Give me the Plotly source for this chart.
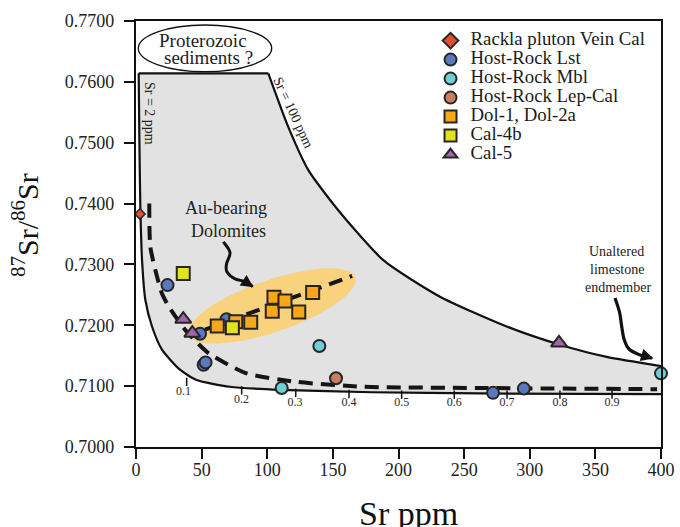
import numpy as np
import plotly.graph_objects as go

FONT = "Liberation Serif"

# ---------------- data ----------------
rackla_x = [3.0]
rackla_y = [0.7383]

lst_x = [24.0, 48.8, 51.5, 53.0, 69.0, 272.0, 295.5]
lst_y = [0.7266, 0.7186, 0.7135, 0.7139, 0.7210, 0.7089, 0.7096]

mbl_x = [111.0, 139.7, 400.0]
mbl_y = [0.7097, 0.7166, 0.7121]

lep_x = [152.4]
lep_y = [0.7113]

dol_x = [61.9, 76.0, 87.4, 105.1, 103.8, 113.5, 124.0, 134.6]
dol_y = [0.7199, 0.7206, 0.7205, 0.7246, 0.7223, 0.7240, 0.7222, 0.7254]

cal4b_x = [36.0, 73.4]
cal4b_y = [0.7285, 0.7196]

cal5_x = [36.0, 42.9, 322.3]
cal5_y = [0.7210, 0.7187, 0.7171]

# envelope curves (Sr = 2 ppm lower/left, Sr = 100 ppm upper/right)
lower_x = [2.06, 2.6, 3.3, 4.6, 7.1, 12.2, 19.8, 33.5, 46.2, 71.6, 109.7, 180.0, 262.0, 400.0]
lower_y = [0.7614, 0.7500, 0.7395, 0.7307, 0.7242, 0.7198, 0.7160, 0.7127, 0.7110, 0.7099, 0.7094, 0.7090, 0.7088, 0.7087]
upper_x = [100.8, 116.0, 131.3, 154.1, 188.4, 231.6, 282.4, 323.0, 358.6, 400.0]
upper_y = [0.7614, 0.7526, 0.7455, 0.7389, 0.7307, 0.7247, 0.7198, 0.7168, 0.7148, 0.7133]
top_x = [2.06, 100.8]
top_y = [0.7614, 0.7614]
fill_pad_x = 440.0   # fill polygon continues past the right axis (clipped there)

# mixing curve (dashed)
mix_x = [10.1, 10.9, 16.0, 19.6, 24.9, 37.6, 55.4, 84.3, 122.4, 173.2, 260.0, 397.0]
mix_y = [0.7400, 0.7329, 0.7280, 0.7253, 0.7231, 0.7192, 0.7154, 0.7121, 0.7107, 0.7099, 0.7097, 0.7095]

# dolomite trend (dashed)
doltrend_x = [52.6, 164.6]
doltrend_y = [0.7193, 0.7281]

# mixing fraction ticks and labels
frac_labels = ["0.1", "0.2", "0.3", "0.4", "0.5", "0.6", "0.7", "0.8", "0.9"]
frac_tick_x = [38.6, 80.5, 121.7, 162.3, 202.4, 242.5, 282.7, 323.0, 362.7]
frac_tick_y = [0.7107, 0.7093, 0.7089, 0.7087, 0.7086, 0.7086, 0.7086, 0.7086, 0.7086]
frac_lab_x = [36.2, 80.4, 121.1, 162.3, 202.4, 242.5, 282.7, 323.0, 362.7]
frac_lab_y = [0.7091, 0.7078, 0.7072, 0.7073, 0.7073, 0.7073, 0.7072, 0.7072, 0.7072]

x_ticks = [0, 50, 100, 150, 200, 250, 300, 350, 400]
y_ticks = [0.70, 0.71, 0.72, 0.73, 0.74, 0.75, 0.76, 0.77]

# ---------------- pixel helpers for decorations ----------------
L, R, T, B = 136, 661, 21, 447
def dx(px):
    return (px - L) / (R - L) * 400.0
def dy(py):
    return 0.70 + (B - py) / (B - T) * 0.07
def pxp(px):
    return (px - L) / (R - L)
def pyp(py):
    return (B - py) / (B - T)

def smooth_path(pts):
    pts = [np.array(p, dtype=float) for p in pts]
    s = "M %.4f,%.6f" % (dx(pts[0][0]), dy(pts[0][1]))
    n = len(pts)
    for i in range(n - 1):
        p0 = pts[i - 1] if i > 0 else pts[i]
        p1 = pts[i]
        p2 = pts[i + 1]
        p3 = pts[i + 2] if i + 2 < n else pts[i + 1]
        c1 = p1 + (p2 - p0) / 6.0
        c2 = p2 - (p3 - p1) / 6.0
        s += " C %.4f,%.6f %.4f,%.6f %.4f,%.6f" % (
            dx(c1[0]), dy(c1[1]), dx(c2[0]), dy(c2[1]), dx(p2[0]), dy(p2[1]))
    return s

fig = go.Figure()

# grey field
fill_x = lower_x + [fill_pad_x, fill_pad_x] + upper_x[::-1]
fill_y = lower_y + [lower_y[-1], upper_y[-1]] + upper_y[::-1]
fig.add_trace(go.Scatter(
    x=fill_x, y=fill_y,
    fill="toself", fillcolor="#e2e2e2", mode="lines",
    line=dict(width=0, shape="spline", smoothing=0.6),
    hoverinfo="skip", showlegend=False))

# highlight ellipse around Au-bearing dolomites
cx, cy, a, b, ang = 272.0, 306.0, 88.0, 26.0, np.radians(19)
t = np.linspace(0, 2 * np.pi, 100)
ex = cx + a * np.cos(t) * np.cos(ang) + b * np.sin(t) * np.sin(ang)
ey = cy - a * np.cos(t) * np.sin(ang) + b * np.sin(t) * np.cos(ang)
fig.add_trace(go.Scatter(
    x=[dx(v) for v in ex], y=[dy(v) for v in ey], fill="toself",
    fillcolor="#f8d27c", mode="lines", line=dict(width=0),
    hoverinfo="skip", showlegend=False))

# envelope lines
fig.add_trace(go.Scatter(x=lower_x, y=lower_y, mode="lines",
                         line=dict(color="#111111", width=2.2, shape="spline", smoothing=0.6),
                         hoverinfo="skip", showlegend=False))
fig.add_trace(go.Scatter(x=top_x, y=top_y, mode="lines",
                         line=dict(color="#111111", width=2.2),
                         hoverinfo="skip", showlegend=False))
fig.add_trace(go.Scatter(x=upper_x, y=upper_y, mode="lines",
                         line=dict(color="#111111", width=2.2, shape="spline", smoothing=0.6),
                         hoverinfo="skip", showlegend=False))

# fraction ticks
fig.add_trace(go.Scatter(x=frac_tick_x, y=frac_tick_y, mode="markers",
                         marker=dict(symbol="line-ns", size=6, line=dict(width=1.5, color="#111111")),
                         hoverinfo="skip", showlegend=False))
fig.add_trace(go.Scatter(x=frac_lab_x, y=frac_lab_y, mode="text", text=frac_labels,
                         textfont=dict(family=FONT, size=12, color="#2a2a2a"),
                         hoverinfo="skip", showlegend=False))

# dashed curves
fig.add_trace(go.Scatter(x=mix_x, y=mix_y, mode="lines",
                         line=dict(color="#151515", width=4, dash="14px,8px", shape="spline", smoothing=0.6),
                         hoverinfo="skip", showlegend=False))
fig.add_trace(go.Scatter(x=doltrend_x, y=doltrend_y, mode="lines",
                         line=dict(color="#151515", width=4, dash="14px,8px"),
                         hoverinfo="skip", showlegend=False))

OUT = "#262626"
def leg(name):
    return '<span style="font-size:18.8px">%s</span>' % name

fig.add_trace(go.Scatter(x=rackla_x, y=rackla_y, mode="markers", name=leg("Rackla pluton Vein Cal"),
                         marker=dict(symbol="diamond", size=8, color="#e4502f", line=dict(width=1.5, color=OUT))))
fig.add_trace(go.Scatter(x=lst_x, y=lst_y, mode="markers", name=leg("Host-Rock Lst"),
                         marker=dict(symbol="circle", size=12, color="#5a78be", line=dict(width=2, color=OUT))))
fig.add_trace(go.Scatter(x=mbl_x, y=mbl_y, mode="markers", name=leg("Host-Rock Mbl"),
                         marker=dict(symbol="circle", size=12, color="#6fcfd4", line=dict(width=2, color=OUT))))
fig.add_trace(go.Scatter(x=lep_x, y=lep_y, mode="markers", name=leg("Host-Rock Lep-Cal"),
                         marker=dict(symbol="circle", size=12, color="#c87e5e", line=dict(width=2, color=OUT))))
fig.add_trace(go.Scatter(x=dol_x, y=dol_y, mode="markers", name=leg("Dol-1, Dol-2a"),
                         marker=dict(symbol="square", size=13, color="#f9a61a", line=dict(width=2, color=OUT))))
fig.add_trace(go.Scatter(x=cal4b_x, y=cal4b_y, mode="markers", name=leg("Cal-4b"),
                         marker=dict(symbol="square", size=13, color="#e3e31a", line=dict(width=2, color=OUT))))
fig.add_trace(go.Scatter(x=cal5_x, y=cal5_y, mode="markers", name=leg("Cal-5"),
                         marker=dict(symbol="triangle-up", size=14, color="#a066a6", line=dict(width=2, color=OUT))))

for tr in fig.data:
    if tr.showlegend is not False:
        tr.cliponaxis = False

shapes = []
# Proterozoic ellipse
shapes.append(dict(type="circle", xref="x", yref="y",
                   x0=dx(138.3), x1=dx(271.7), y0=dy(71.7), y1=dy(25),
                   line=dict(color="#111111", width=1.3), fillcolor="white", layer="above"))
# Au-bearing arrow body
shapes.append(dict(type="path", xref="x", yref="y",
                   path=smooth_path([(223.3, 241.7), (230, 252.5), (226.5, 264), (227, 272),
                                     (235, 278.8), (246.7, 282), (252.5, 286.5)]),
                   line=dict(color="#111111", width=3)))
# Unaltered limestone arrow body
shapes.append(dict(type="path", xref="x", yref="y",
                   path=smooth_path([(615, 298), (619.5, 312), (621.5, 325), (624, 339),
                                     (629, 349), (640, 355), (652, 358.3)]),
                   line=dict(color="#111111", width=3.2)))

annotations = []
def txt(text, px, py, size, angle=0, color="#222222"):
    annotations.append(dict(text=text, xref="paper", yref="paper", x=pxp(px), y=pyp(py),
                            xanchor="center", yanchor="middle", showarrow=False, textangle=angle,
                            font=dict(family=FONT, size=size, color=color)))

txt("Proterozoic", 202.5, 40.5, 19)
txt("sediments ?", 208.3, 57, 19)
txt("Sr = 2 ppm", 149.3, 113.3, 14, 90)
txt("Sr = 100 ppm", 293.3, 112.5, 14, 65)
txt("Au-bearing", 225.5, 208, 18)
txt("Dolomites", 228, 230.7, 18)
txt("Unaltered", 616.7, 251.7, 14)
txt("limestone", 616.7, 269.5, 14)
txt("endmember", 618.3, 287, 14)
txt("<sup>87</sup>Sr/<sup>86</sup>Sr", 25, 225, 30, -90, "#111111")
txt("Sr ppm", 408, 513, 34, 0, "#111111")

# arrowheads
annotations.append(dict(x=dx(253.5), y=dy(287.2), xref="x", yref="y", ax=-9, ay=-6, text="",
                        showarrow=True, arrowhead=2, arrowsize=1, arrowwidth=2.5, arrowcolor="#111111",
                        standoff=0))
annotations.append(dict(x=dx(653.5), y=dy(358.5), xref="x", yref="y", ax=-10, ay=-3, text="",
                        showarrow=True, arrowhead=2, arrowsize=1, arrowwidth=2.5, arrowcolor="#111111",
                        standoff=0))

fig.update_layout(
    width=680, height=527,
    margin=dict(l=L, r=680 - R, t=T, b=527 - B, pad=0, autoexpand=False),
    paper_bgcolor="white", plot_bgcolor="white",
    font=dict(family=FONT, color="#222222"),
    shapes=shapes, annotations=annotations,
    legend=dict(x=0.561, y=0.988, xanchor="left", yanchor="top",
                bgcolor="rgba(0,0,0,0)", borderwidth=0, itemsizing="constant",
                font=dict(family=FONT, size=11, color="#1a1a1a")),
    showlegend=True,
)
fig.update_xaxes(range=[0, 400], tickvals=x_ticks, ticktext=[str(v) for v in x_ticks],
                 showgrid=False, zeroline=False, showline=True, mirror=True, automargin=False,
                 linecolor="#111111", linewidth=2.2, ticks="outside", ticklen=10,
                 tickwidth=2.2, tickcolor="#111111", ticklabelstandoff=-5,
                 tickfont=dict(family=FONT, size=18, color="#222222"))
fig.update_yaxes(range=[0.70, 0.77], tickvals=y_ticks, ticktext=["%.4f" % v for v in y_ticks],
                 showgrid=False, zeroline=False, showline=True, mirror=True, automargin=False,
                 linecolor="#111111", linewidth=2.2, ticks="outside", ticklen=10,
                 tickwidth=2.2, tickcolor="#111111", ticklabelstandoff=6,
                 tickfont=dict(family=FONT, size=18, color="#222222"))

fig.write_html("out.html")
